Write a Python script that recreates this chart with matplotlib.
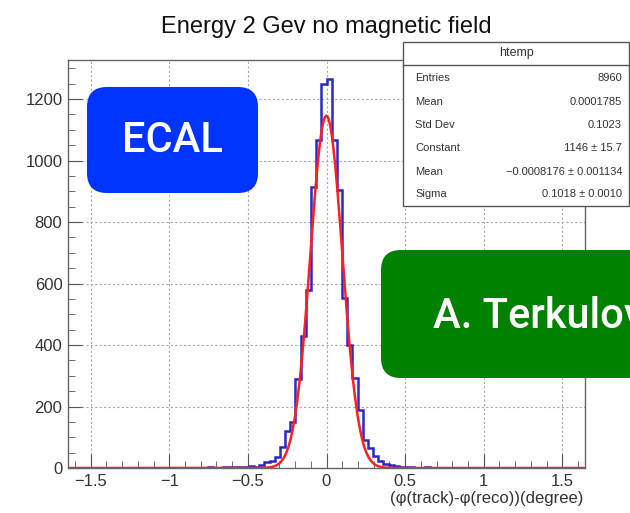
import numpy as np
import matplotlib.pyplot as plt
from matplotlib.patches import FancyBboxPatch, Rectangle
from matplotlib.ticker import MultipleLocator

plt.rcParams['font.family'] = ['Liberation Sans', 'DejaVu Sans']

# histogram htemp: 100 bins
x_min, x_max = -1.645, 1.645
counts = [0] * 15 + \
    [1, 0, 1, 0, 0, 1, 1, 0, 1, 1, 0, 1, 2, 1, 1, 2, 2] + \
    [3, 2, 4, 5] + \
    [4, 10, 18, 24, 37, 69, 120, 150, 290, 430, 579, 915, 1067, 1250, 1265] + \
    [1067, 905, 552, 400, 293, 189, 91, 65, 38, 24, 14, 9, 6, 3, 2] + \
    [2, 1, 1, 2, 1, 0, 1, 1, 0, 1, 1, 1, 0, 1, 1, 0, 1,
     1, 0, 1, 1, 0, 1, 0, 1, 1, 0, 1, 0, 1, 0, 1, 1, 1]

# gaus fit
fit_const = 1146
fit_mean = -0.0008176
fit_sigma = 0.1018

stat_labels = ["Entries", "Mean", "Std Dev", "Constant", "Mean", "Sigma"]
stat_values = ["8960", "0.0001785", "0.1023", "1146 \u00b1 15.7",
               "\u22120.0008176 \u00b1 0.001134", "0.1018 \u00b1 0.0010"]

W, H = 630, 513


def fx(px):
    return px / W


def fy(py):
    return 1 - py / H


fig = plt.figure(figsize=(6.3, 5.13), dpi=100)
ax = fig.add_axes([fx(68), fy(468), (585 - 68) / W, (468 - 60) / H])

edges = np.linspace(x_min, x_max, len(counts) + 1)
ax.stairs(counts, edges, color='#2828c8', lw=1.8, zorder=3)

xf = np.linspace(x_min, x_max, 500)
yf = fit_const * np.exp(-0.5 * ((xf - fit_mean) / fit_sigma) ** 2)
ax.plot(xf, yf, color='#ff2020', lw=1.8, zorder=4)

ax.set_xlim(x_min, x_max)
ax.set_ylim(0, 1327)
ax.xaxis.set_major_locator(MultipleLocator(0.5))
ax.xaxis.set_minor_locator(MultipleLocator(0.1))
ax.yaxis.set_major_locator(MultipleLocator(200))
ax.yaxis.set_minor_locator(MultipleLocator(50))
ax.xaxis.set_major_formatter(lambda v, p: ('%g' % v).replace('-', '\u2212'))
ax.grid(True, which='major', color='#a8a8a8', ls=(0, (2, 2)), lw=0.8)
ax.set_axisbelow(True)
ax.tick_params(which='both', direction='in', colors='#555555',
               labelcolor='#333333', labelsize=12)
ax.tick_params(which='major', length=10, pad=4)
ax.tick_params(which='minor', length=5)
for s in ax.spines.values():
    s.set_color('#666666')
    s.set_linewidth(1)

fig.text(fx(326), fy(33), "Energy 2 Gev no magnetic field", ha='center',
         va='baseline', fontsize=17, color='#111111')
fig.text(fx(583), fy(498), "(\u03c6(track)-\u03c6(reco))(degree)", ha='right',
         va='center', fontsize=12, color='#333333')

# stats box
box = Rectangle((4.03, (H - 206) / 100), 2.26, 1.64, transform=fig.dpi_scale_trans,
                facecolor='white', edgecolor='#555555', lw=1, zorder=10)
fig.add_artist(box)
fig.add_artist(plt.Line2D([4.03, 6.29], [(H - 65) / 100] * 2,
                          transform=fig.dpi_scale_trans, color='#555555', lw=1, zorder=11))
fig.text(fx(516), fy(53), "htemp", ha='center', va='center', fontsize=9,
         color='#333333', zorder=12)
rows_y = [78, 102, 125, 148, 172, 194]
for lab, val, yy in zip(stat_labels, stat_values, rows_y):
    fig.text(fx(415), fy(yy), lab, ha='left', va='center', fontsize=8,
             color='#333333', zorder=12)
    fig.text(fx(622), fy(yy), val, ha='right', va='center', fontsize=8,
             color='#333333', zorder=12)

# labels on top
ecal = FancyBboxPatch((0.87, (H - 193) / 100), 1.71, 1.06,
                      boxstyle="round,pad=0,rounding_size=0.2",
                      transform=fig.dpi_scale_trans, facecolor='#0033ff',
                      edgecolor='none', zorder=20)
fig.add_artist(ecal)
fig.text(fx(172), fy(140), "ECAL", ha='center', va='center', fontsize=30,
         color='white', family='Roboto', fontweight='medium', zorder=21)

green = FancyBboxPatch((3.81, (H - 378) / 100), 3.5, 1.28,
                       boxstyle="round,pad=0,rounding_size=0.2",
                       transform=fig.dpi_scale_trans, facecolor='#008200',
                       edgecolor='none', zorder=20)
fig.add_artist(green)
fig.text(fx(433), fy(316), "A. Terkulov", ha='left', va='center', fontsize=30,
         color='white', family='Roboto', fontweight='medium', zorder=21)

fig.savefig('out.png', dpi=100)
